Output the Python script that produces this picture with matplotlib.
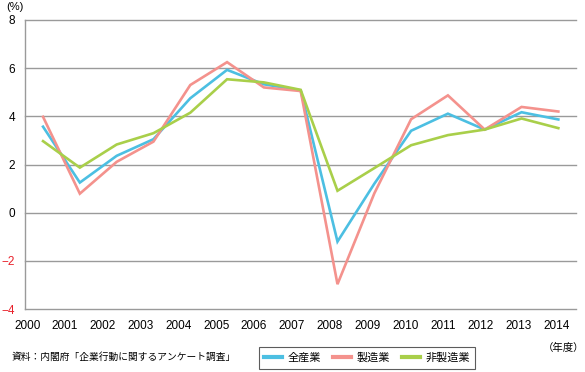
import matplotlib
matplotlib.use("Agg")
import matplotlib.pyplot as plt

# 経常利益の見通し (%) - 年度
YEARS = ["2000", "2001", "2002", "2003", "2004", "2005", "2006", "2007",
         "2008", "2009", "2010", "2011", "2012", "2013", "2014"]
ALL_IND = [3.57, 1.25, 2.36, 3.05, 4.75, 5.93, 5.33, 5.08,
           -1.2, 1.2, 3.4, 4.11, 3.45, 4.17, 3.87]
MANUF = [3.98, 0.79, 2.11, 2.95, 5.3, 6.25, 5.2, 5.05,
         -2.97, 0.8, 3.88, 4.87, 3.45, 4.39, 4.2]
NON_MANUF = [2.97, 1.87, 2.83, 3.3, 4.15, 5.54, 5.41, 5.1,
             0.91, 1.85, 2.8, 3.22, 3.45, 3.91, 3.51]
SERIES = [("全産業", ALL_IND, "#4cbfe2"),
          ("製造業", MANUF, "#f4928d"),
          ("非製造業", NON_MANUF, "#a9cf4a")]
YTICKS = [-4, -2, 0, 2, 4, 6, 8]

JP = ["Noto Sans CJK JP", "DejaVu Sans"]
NUM = "Liberation Sans"
GRID = "#9a9a9a"

fig = plt.figure(figsize=(5.85, 3.72), dpi=100)
W, H = 585, 372
# axes : x 25..576 px, y 20..309 px
ax = fig.add_axes([25 / W, 1 - 309 / H, (576 - 25) / W, (309 - 20) / H])

xs = list(range(len(YEARS)))
for name, vals, col in SERIES:
    ax.plot(xs, vals, color=col, lw=1.9, label=name, solid_joinstyle="miter", zorder=3)

ax.set_xlim(-0.49, 14.48)
ax.set_ylim(-4, 8)

for v in YTICKS:
    ax.axhline(v, color=GRID, lw=1.0, clip_on=False, zorder=1)
for s in ax.spines.values():
    s.set_visible(False)
ax.axvline(-0.49, color=GRID, lw=1.0, clip_on=False, zorder=1)

# year labels sit slightly left of the data points in the original
label_pos = [-0.43 + j * 1.027 for j in range(len(YEARS))]
ax.set_xticks(label_pos)
ax.set_xticklabels(YEARS, fontsize=8.5, family=NUM)
ax.set_yticks(YTICKS)
ax.set_yticklabels([str(v).replace("-", "\u2212") for v in YTICKS], fontsize=8.5, family=NUM)
for lab, v in zip(ax.get_yticklabels(), YTICKS):
    if v < 0:
        lab.set_color("#e8202a")
ax.tick_params(axis="both", length=0)
ax.tick_params(axis="x", pad=8)
ax.tick_params(axis="y", pad=7)

fig.text(6 / W, 1 - 7 / H, "(%)", fontsize=8, family=NUM, va="center", ha="left")
fig.text(584 / W, 1 - 348 / H, "（年度）", fontsize=7.5, family=JP, va="center", ha="right")
fig.text(12 / W, 1 - 357 / H, "資料：内閣府「企業行動に関するアンケート調査」", fontsize=7,
         family=JP, va="center", ha="left")

leg = fig.legend(loc="center", bbox_to_anchor=(367 / W, 1 - 358 / H), ncol=3,
                 prop={"family": JP, "size": 8}, frameon=True, fancybox=False,
                 edgecolor="#333333", handlelength=1.6, handletextpad=0.5,
                 columnspacing=1.1, borderpad=0.5, borderaxespad=0)
leg.get_frame().set_linewidth(0.8)
for line in leg.get_lines():
    line.set_linewidth(3)

fig.savefig("out.png", dpi=100)
